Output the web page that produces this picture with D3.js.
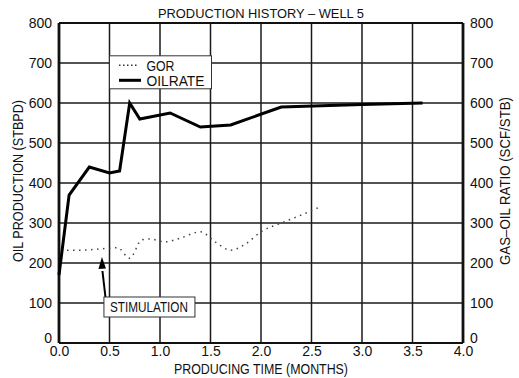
<!DOCTYPE html>
<html>
<head>
<meta charset="utf-8">
<script src="https://cdn.jsdelivr.net/npm/d3@7"></script>
<style>
  body { margin: 0; background: #fff; }
  text { font-family: "Liberation Sans", Arial, sans-serif; fill: #111; }
</style>
</head>
<body>
<div id="chart"></div>
<script>
// oil rate (STBPD) vs producing time (months)
var oilTime = [0, 0.1, 0.3, 0.5, 0.6, 0.7, 0.8, 1.1, 1.4, 1.7, 2.2, 3.0, 3.6];
var oilRate = [170, 370, 440, 425, 430, 600, 560, 575, 540, 545, 590, 596, 600];

// gas-oil ratio (SCF/STB)
var gorTime = [0.02, 0.2, 0.45, 0.58, 0.7, 0.82, 0.9, 1.05, 1.2, 1.4, 1.55, 1.7, 1.85, 2.0, 2.2, 2.4, 2.6];
var gorValue = [232, 232, 236, 238, 212, 258, 260, 253, 262, 278, 252, 232, 248, 278, 300, 320, 342];

var xTicks = [0, 0.5, 1.0, 1.5, 2.0, 2.5, 3.0, 3.5, 4.0];
var yTicks = [0, 100, 200, 300, 400, 500, 600, 700, 800];

var margin = {top: 23, right: 56, bottom: 35, left: 59},
    width = 519 - margin.left - margin.right,
    height = 378 - margin.top - margin.bottom;

var svg = d3.select("#chart").append("svg")
    .attr("width", 519)
    .attr("height", 378)
  .append("g")
    .attr("transform", "translate(" + margin.left + "," + margin.top + ")");

var x = d3.scaleLinear().domain([0, 4]).range([0, width]);
var yOil = d3.scaleLinear().domain([0, 800]).range([height, 0]);
var yGor = d3.scaleLinear().domain([0, 800]).range([height, 0]);

// grid
svg.selectAll(".vgrid").data(xTicks.slice(1, -1)).enter().append("line")
    .attr("x1", function(d) { return x(d); }).attr("x2", function(d) { return x(d); })
    .attr("y1", 0).attr("y2", height)
    .attr("stroke", "#1a1a1a").attr("stroke-width", 1.5);
svg.selectAll(".hgrid").data(yTicks.slice(1, -1)).enter().append("line")
    .attr("y1", function(d) { return yOil(d); }).attr("y2", function(d) { return yOil(d); })
    .attr("x1", 0).attr("x2", width)
    .attr("stroke", "#1a1a1a").attr("stroke-width", 1.5);

// axes
var xAxis = d3.axisBottom(x).tickValues(xTicks).tickFormat(d3.format(".1f")).tickSize(0).tickPadding(3);
var yAxisL = d3.axisLeft(yOil).tickValues(yTicks).tickSize(0).tickPadding(7);
var yAxisR = d3.axisRight(yGor).tickValues(yTicks).tickSize(0).tickPadding(7);

function styleAxis(g) {
  g.select(".domain").remove();
  g.selectAll("text").style("font-size", "14px").attr("fill", "#111");
}

svg.append("g").attr("transform", "translate(0," + height + ")").call(xAxis).call(styleAxis);
svg.append("g").call(yAxisL).call(styleAxis)
   .selectAll("text").filter(function(d) { return d === 0; }).attr("dy", "-0.05em");
svg.append("g").attr("transform", "translate(" + width + ",0)").call(yAxisR).call(styleAxis)
   .selectAll("text").filter(function(d) { return d === 0; }).attr("dy", "-0.05em");

// frame
svg.append("line").attr("x1", 0).attr("x2", width).attr("y1", 0).attr("y2", 0)
    .attr("stroke", "#111").attr("stroke-width", 2.2);
svg.append("line").attr("x1", 0).attr("x2", width).attr("y1", height).attr("y2", height)
    .attr("stroke", "#111").attr("stroke-width", 2.2);
svg.append("line").attr("x1", 0).attr("x2", 0).attr("y1", 0).attr("y2", height)
    .attr("stroke", "#111").attr("stroke-width", 2.8);
svg.append("line").attr("x1", width).attr("x2", width).attr("y1", 0).attr("y2", height)
    .attr("stroke", "#111").attr("stroke-width", 2.8);

// series
var gorData = gorTime.map(function(t, i) { return {t: t, v: gorValue[i]}; });
var oilData = oilTime.map(function(t, i) { return {t: t, v: oilRate[i]}; });

svg.append("path").datum(gorData)
    .attr("fill", "none").attr("stroke", "#444").attr("stroke-width", 1.5)
    .attr("stroke-dasharray", "1.5,4.5")
    .attr("d", d3.line().x(function(d) { return x(d.t); }).y(function(d) { return yGor(d.v); }).curve(d3.curveMonotoneX));

svg.append("path").datum(oilData)
    .attr("fill", "none").attr("stroke", "#000").attr("stroke-width", 3)
    .attr("stroke-linejoin", "miter")
    .attr("d", d3.line().x(function(d) { return x(d.t); }).y(function(d) { return yOil(d.v); }));

// legend
var lg = svg.append("g").attr("transform", "translate(" + (x(0.5) - 0.5) + "," + yOil(718) + ")");
lg.append("rect").attr("x", 0.5).attr("y", 0).attr("width", 102).attr("height", 33)
    .attr("fill", "#fff").attr("stroke", "#333").attr("stroke-width", 1);
lg.append("line").attr("x1", 10).attr("x2", 29).attr("y1", 9.5).attr("y2", 9.5)
    .attr("stroke", "#333").attr("stroke-width", 1.6).attr("stroke-dasharray", "1.5,2.5");
lg.append("line").attr("x1", 10).attr("x2", 32).attr("y1", 24.5).attr("y2", 24.5)
    .attr("stroke", "#000").attr("stroke-width", 3);
lg.append("text").attr("x", 37.5).attr("y", 15).style("font-size", "14px")
    .attr("textLength", 28).attr("lengthAdjust", "spacingAndGlyphs").text("GOR");
lg.append("text").attr("x", 37.5).attr("y", 30).style("font-size", "14px")
    .attr("textLength", 58).attr("lengthAdjust", "spacingAndGlyphs").text("OILRATE");

// stimulation annotation
var sx = x(0.44), sy = yOil(115);
var ann = svg.append("g");
ann.append("line").attr("x1", sx + 2).attr("y1", sy).attr("x2", sx - 1).attr("y2", yOil(200) + 8)
    .attr("stroke", "#000").attr("stroke-width", 2);
ann.append("path")
    .attr("d", "M" + (sx - 1.5) + "," + (yOil(215)) + " L" + (sx - 5) + "," + (yOil(215) + 12) + " L" + (sx + 2.5) + "," + (yOil(215) + 11.5) + "Z")
    .attr("fill", "#000");
ann.append("rect").attr("x", sx + 0.5).attr("y", sy).attr("width", 91).attr("height", 20)
    .attr("fill", "#fff").attr("stroke", "#333").attr("stroke-width", 1);
ann.append("text").attr("x", sx + 6.5).attr("y", sy + 15).style("font-size", "14px")
    .attr("textLength", 78).attr("lengthAdjust", "spacingAndGlyphs").text("STIMULATION");

// titles
svg.append("text").attr("x", width / 2).attr("y", -5).attr("text-anchor", "middle")
    .style("font-size", "13px").attr("textLength", 206).attr("lengthAdjust", "spacingAndGlyphs")
    .text("PRODUCTION HISTORY \u2013 WELL 5");
svg.append("text").attr("x", width / 2 - 87).attr("y", height + 31)
    .style("font-size", "14px").attr("textLength", 174).attr("lengthAdjust", "spacingAndGlyphs")
    .text("PRODUCING TIME (MONTHS)");
svg.append("text").attr("transform", "translate(" + (-36) + "," + (height / 2 - 2) + ") rotate(-90)")
    .attr("x", -81).style("font-size", "14px").attr("textLength", 162).attr("lengthAdjust", "spacingAndGlyphs")
    .text("OIL PRODUCTION (STBPD)");
svg.append("text").attr("transform", "translate(" + (width + 47) + "," + (height / 2 - 2) + ") rotate(-90)")
    .attr("x", -84).style("font-size", "14px").attr("textLength", 168).attr("lengthAdjust", "spacingAndGlyphs")
    .text("GAS\u2013OIL RATIO (SCF/STB)");
</script>
</body>
</html>
